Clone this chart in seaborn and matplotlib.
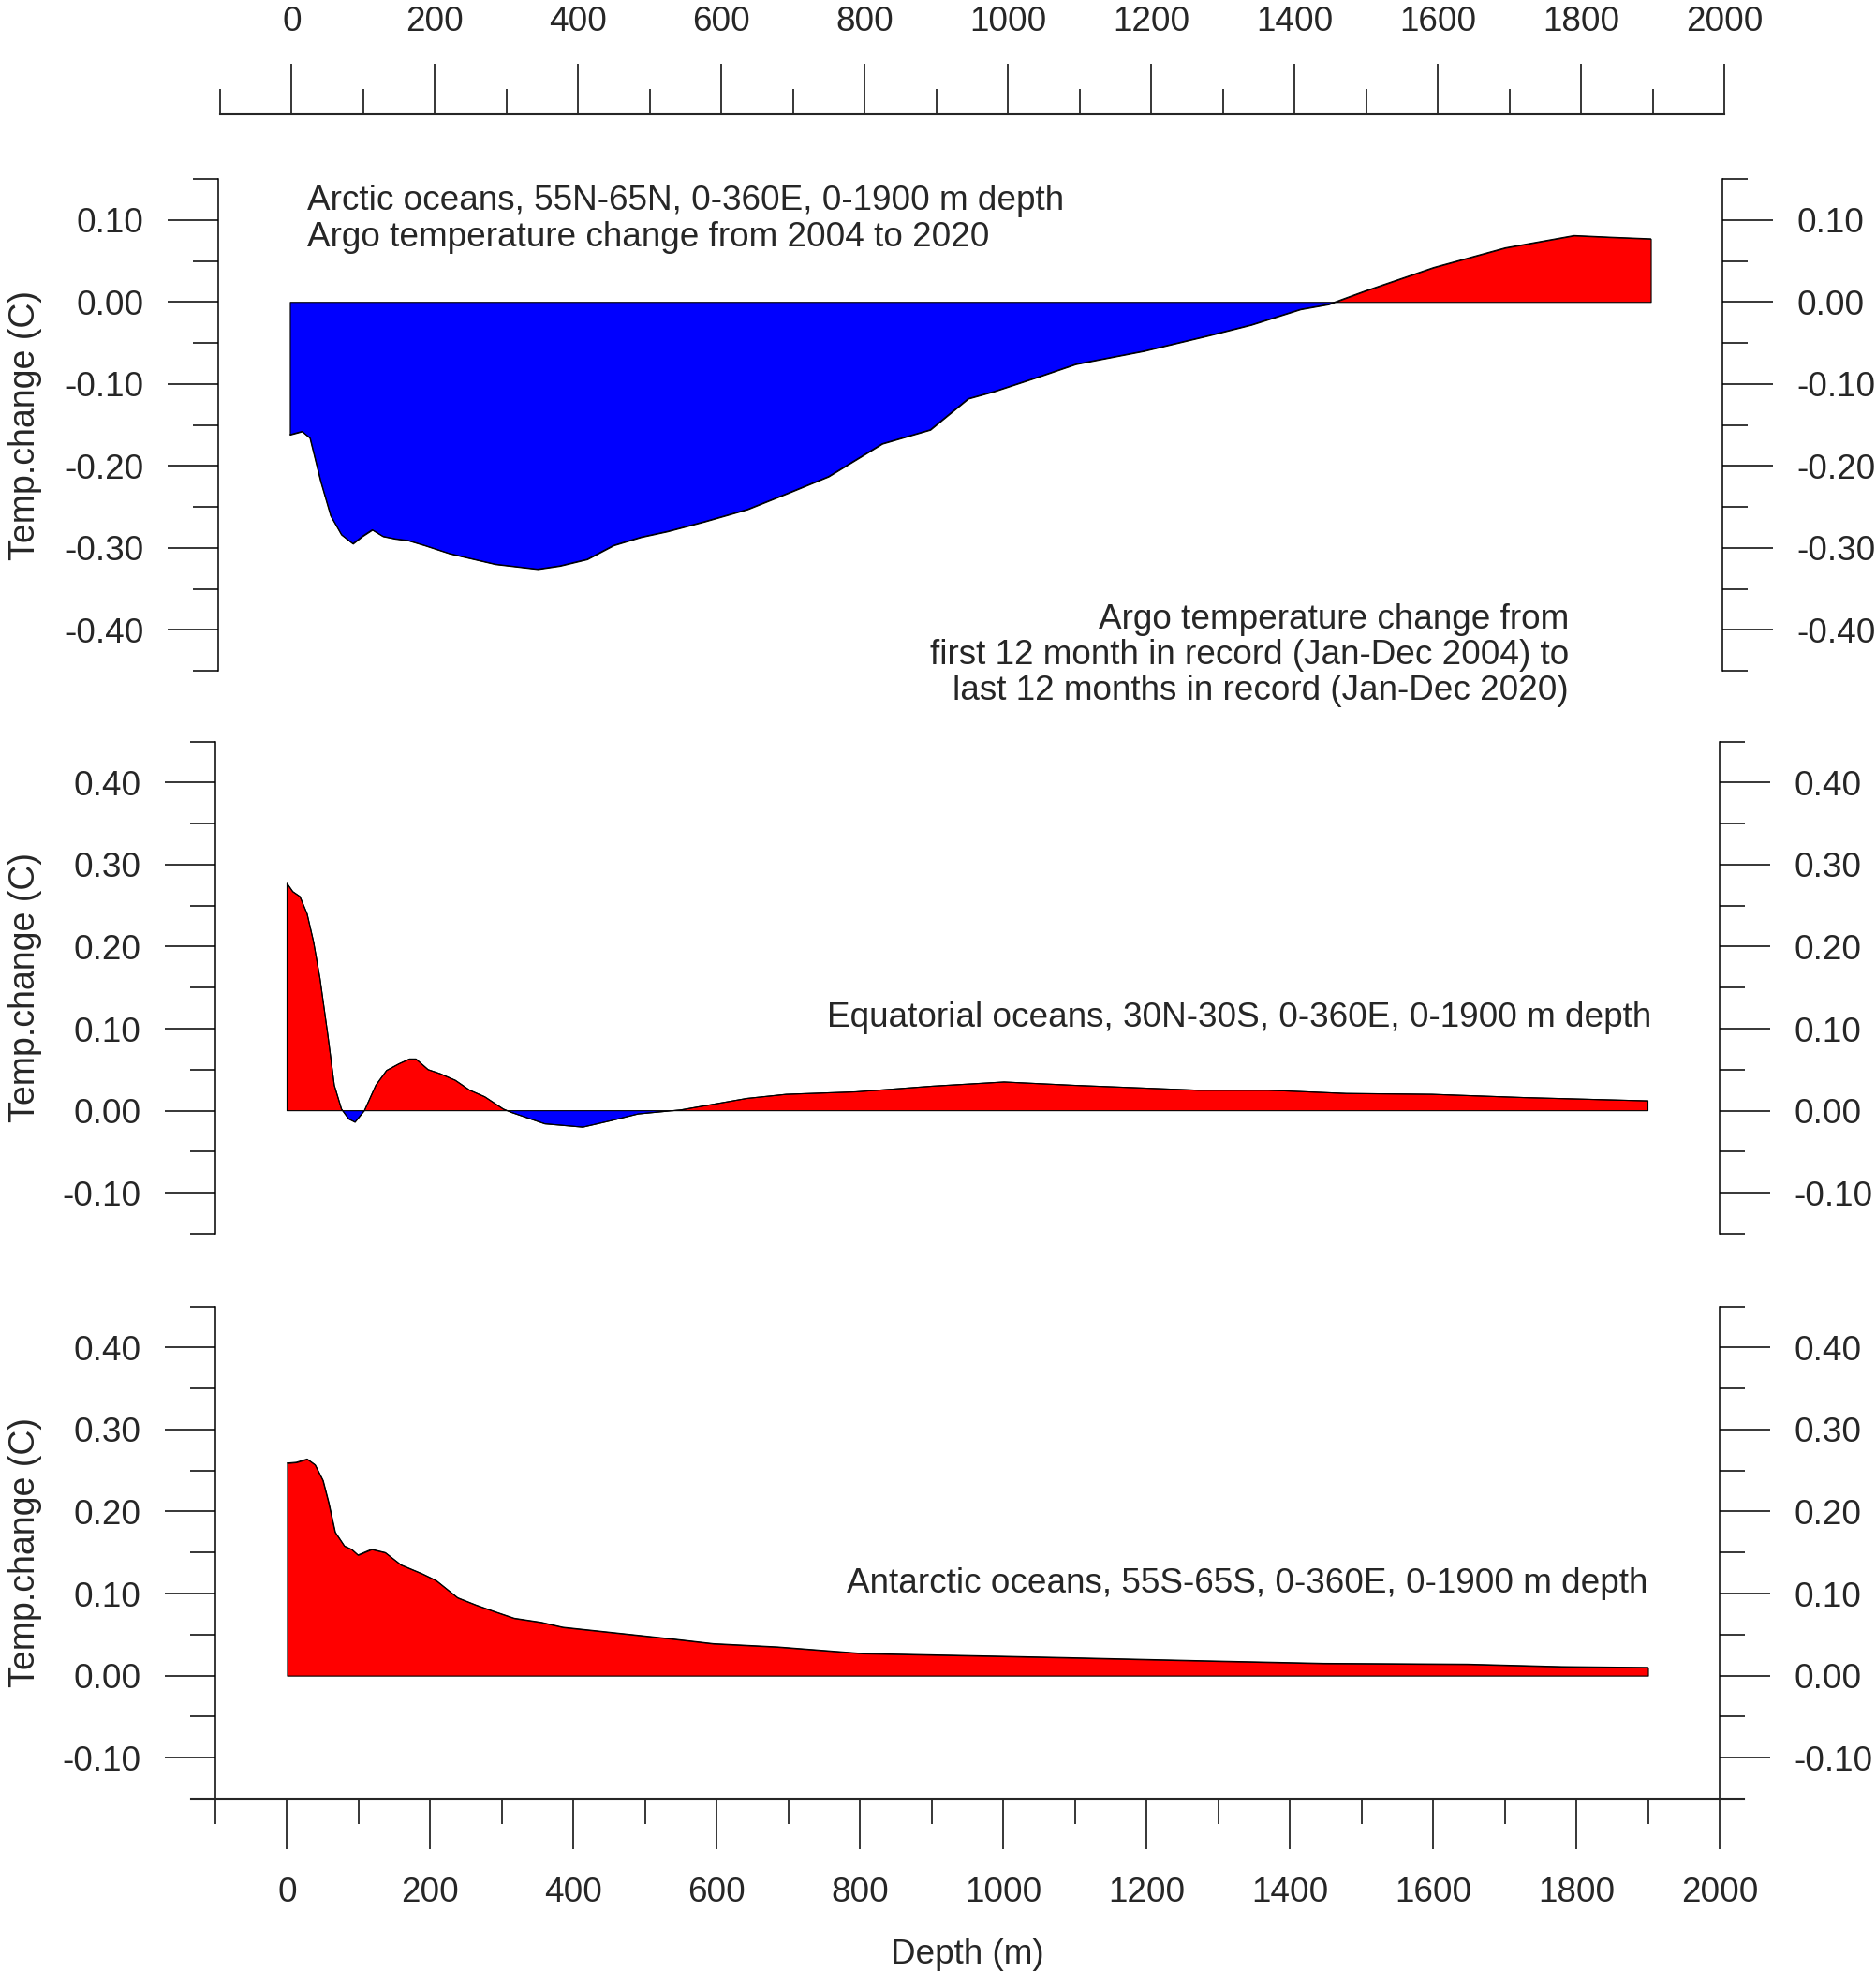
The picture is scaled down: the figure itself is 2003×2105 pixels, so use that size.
import numpy as np
import matplotlib
matplotlib.use("Agg")
import matplotlib.pyplot as plt
import seaborn as sns
from matplotlib.ticker import FuncFormatter

# depth (m) and temperature change (C)
arctic_depth = [0, 17, 28, 43, 57, 72, 88, 101, 115, 130, 147, 165, 188, 223, 287,
                346, 377, 415, 452, 490, 527, 579, 639, 699, 752, 827, 894, 947, 984,
                1050, 1097, 1192, 1283, 1342, 1411, 1450, 1500, 1597, 1697, 1793, 1843, 1900]
arctic_temp = [-0.162, -0.158, -0.166, -0.219, -0.261, -0.284, -0.295, -0.286, -0.278,
               -0.286, -0.289, -0.291, -0.297, -0.307, -0.320, -0.326, -0.322, -0.314,
               -0.297, -0.287, -0.280, -0.268, -0.253, -0.232, -0.213, -0.173, -0.156,
               -0.118, -0.109, -0.090, -0.076, -0.060, -0.041, -0.028, -0.009, -0.003,
               0.013, 0.042, 0.066, 0.081, 0.079, 0.077]

equat_depth = [0, 8, 18, 28, 37, 46, 57, 66, 76, 86, 95, 108, 124, 139, 156, 171, 180,
               197, 214, 235, 255, 276, 302, 313, 360, 413, 453, 490, 550, 642, 697, 794,
               902, 1001, 1098, 1272, 1370, 1479, 1598, 1728, 1900]
equat_temp = [0.277, 0.267, 0.261, 0.240, 0.206, 0.161, 0.092, 0.031, 0.002, -0.010,
              -0.014, 0.000, 0.031, 0.049, 0.057, 0.063, 0.063, 0.050, 0.045, 0.037,
              0.025, 0.017, 0.002, -0.002, -0.016, -0.020, -0.012, -0.004, 0.001, 0.015,
              0.020, 0.023, 0.030, 0.035, 0.031, 0.025, 0.025, 0.021, 0.020, 0.016, 0.012]

antarc_depth = [0, 13, 28, 39, 50, 58, 67, 80, 90, 99, 118, 137, 159, 189, 208, 238, 264,
                290, 317, 355, 385, 460, 535, 595, 685, 804, 975, 1086, 1286, 1447, 1648,
                1779, 1900]
antarc_temp = [0.259, 0.260, 0.264, 0.257, 0.238, 0.211, 0.175, 0.158, 0.154, 0.147,
               0.154, 0.150, 0.135, 0.124, 0.116, 0.095, 0.086, 0.078, 0.070, 0.065,
               0.059, 0.052, 0.045, 0.039, 0.035, 0.027, 0.024, 0.022, 0.018, 0.015,
               0.014, 0.011, 0.010]

depth_major = list(range(0, 2001, 200))
depth_minor = list(range(-100, 2000, 200))
arctic_yticks = [-0.4, -0.3, -0.2, -0.1, 0.0, 0.1]
arctic_yminor = [-0.45, -0.35, -0.25, -0.15, -0.05, 0.05, 0.15]
low_yticks = [-0.1, 0.0, 0.1, 0.2, 0.3, 0.4]
low_yminor = [-0.15, -0.05, 0.05, 0.15, 0.25, 0.35, 0.45]

arctic_title = "Arctic oceans, 55N-65N, 0-360E, 0-1900 m depth\nArgo temperature change from 2004 to 2020"
period_note = ("Argo temperature change from\nfirst 12 month in record (Jan-Dec 2004) to\n"
               "last 12 months in record (Jan-Dec 2020)")
equat_title = "Equatorial oceans, 30N-30S, 0-360E, 0-1900 m depth"
antarc_title = "Antarctic oceans, 55S-65S, 0-360E, 0-1900 m depth"

sns.set_theme(style="ticks")
plt.rcParams["font.family"] = ["Liberation Sans", "DejaVu Sans"]
plt.rcParams["axes.unicode_minus"] = False

W, H = 2003, 2105
fig = plt.figure(figsize=(W / 100, H / 100), dpi=100)
fig.patch.set_facecolor("white")

FS = 26.6
TFS = 26.6
MAJ, MIN = 39, 19.5


def px_box(x0, x1, ytop, ybot):
    return [x0 / W, 1 - ybot / H, (x1 - x0) / W, (ybot - ytop) / H]


def draw_profile(ax, depth, temp):
    x = np.array(depth, float)
    y = np.array(temp, float)
    ax.fill_between(x, y, 0, where=y >= 0, interpolate=True, facecolor="#ff0000",
                    edgecolor="black", linewidth=0.8)
    ax.fill_between(x, y, 0, where=y <= 0, interpolate=True, facecolor="#0000ff",
                    edgecolor="black", linewidth=0.8)
    sns.lineplot(x=x, y=y, ax=ax, color="black", linewidth=0.8, sort=False)


def style_panel(ax, ylim, majors, minors):
    ax.set_xlim(-100, 2000)
    ax.set_ylim(*ylim)
    ax.set_facecolor("white")
    ax.grid(False)
    ax.spines["top"].set_visible(False)
    ax.spines["bottom"].set_visible(False)
    for s in ["left", "right"]:
        ax.spines[s].set_linewidth(1.1)
        ax.spines[s].set_color("black")
    ax.set_yticks(majors)
    ax.set_yticks(minors, minor=True)
    ax.yaxis.set_major_formatter(FuncFormatter(lambda v, p: f"{v:.2f}"))
    ax.tick_params(axis="y", which="both", left=True, right=True, labelleft=True,
                   labelright=True, direction="out", width=1.1, color="black")
    ax.tick_params(axis="y", which="major", length=MAJ, pad=18, labelsize=TFS)
    ax.tick_params(axis="y", which="minor", length=MIN)
    ax.set_xticks([])
    ax.set_xlabel("")
    ax.set_ylabel("")


ax1 = fig.add_axes(px_box(233, 1839, 191, 716))
ax2 = fig.add_axes(px_box(230, 1836, 791.5, 1317))
ax3 = fig.add_axes(px_box(230, 1836, 1394.5, 1920))

draw_profile(ax1, arctic_depth, arctic_temp)
draw_profile(ax2, equat_depth, equat_temp)
draw_profile(ax3, antarc_depth, antarc_temp)

style_panel(ax1, (-0.45, 0.15), arctic_yticks, arctic_yminor)
style_panel(ax2, (-0.15, 0.45), low_yticks, low_yminor)
style_panel(ax3, (-0.15, 0.45), low_yticks, low_yminor)

# bottom depth axis on the lowest panel
ax3.spines["bottom"].set_visible(True)
ax3.spines["bottom"].set_linewidth(1.5)
ax3.spines["bottom"].set_bounds(-134, 2034)
ax3.set_xticks(depth_major)
ax3.set_xticks(depth_minor, minor=True)
ax3.tick_params(axis="x", which="both", bottom=True, direction="out", width=1.1, color="black")
ax3.tick_params(axis="x", which="major", length=MAJ, pad=21, labelsize=TFS)
ax3.tick_params(axis="x", which="minor", length=MIN)
ax3.set_xlabel("Depth (m)", fontsize=FS, labelpad=22)

# top depth axis
axt = fig.add_axes(px_box(235, 1841, 121.9, 122))
axt.set_xlim(-100, 2000)
axt.set_yticks([])
for s in ["left", "right", "bottom"]:
    axt.spines[s].set_visible(False)
axt.spines["top"].set_linewidth(1.5)
axt.patch.set_alpha(0)
axt.xaxis.tick_top()
axt.set_xticks(depth_major)
axt.set_xticks(depth_minor, minor=True)
axt.tick_params(axis="x", which="both", top=True, bottom=False, direction="out",
                width=1.1, color="black")
axt.tick_params(axis="x", which="major", length=MAJ, pad=19, labelsize=TFS)
axt.tick_params(axis="x", which="minor", length=MIN)

# y labels
for ax in (ax1, ax2, ax3):
    b = ax.get_position()
    fig.text(27 / W, b.y0 + b.height / 2, "Temp.change (C)", rotation=90,
             ha="center", va="center", fontsize=27)

# annotations
fig.text(328 / W, 1 - 234 / H, arctic_title, ha="left", va="center", fontsize=FS,
         linespacing=1.16)
fig.text(1675 / W, 1 - 699.5 / H, period_note, ha="right", va="center", fontsize=FS,
         multialignment="right", linespacing=1.12)
fig.text(1763 / W, 1 - 1086 / H, equat_title, ha="right", va="center", fontsize=FS)
fig.text(1759 / W, 1 - 1690 / H, antarc_title, ha="right", va="center", fontsize=FS)

fig.savefig("out.png", dpi=100, facecolor="white")
